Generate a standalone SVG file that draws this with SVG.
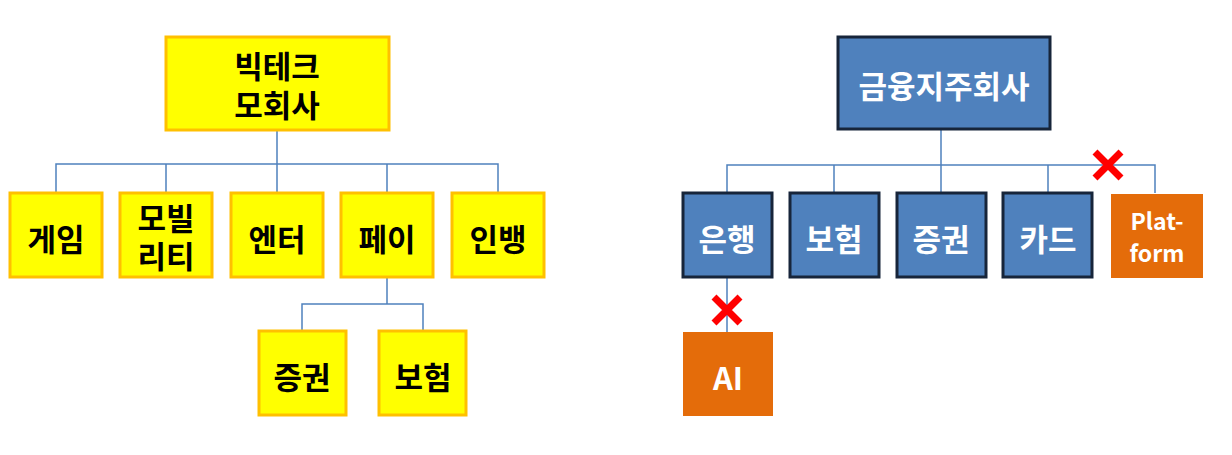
<svg xmlns="http://www.w3.org/2000/svg" width="1232" height="455" viewBox="0 0 1232 455">
<style>
.y{fill:#FFFF00;stroke:#FFC000;stroke-width:3}
.b{fill:#4F81BD;stroke:#17253A;stroke-width:3}
.o{fill:#E46C0A}
text{font-family:"Noto Sans CJK KR","Noto Sans",sans-serif;font-weight:bold;text-anchor:middle;dominant-baseline:central}
.k{fill:#000;font-size:31px}
.w{fill:#fff;font-size:31px}
.c{fill:none;stroke:#4F81BD;stroke-width:1.5}
.x{stroke:#FF0000;stroke-width:7}
</style>
<g id="connectors">
<path class="c" d="M277 130V164M56 193V164H498V193M166 164V193M277 164V193M387 164V193"/>
<path class="c" d="M387 277V304M302 331V304H423V331"/>
<path class="c" d="M941 129V165M727 193V165H1155V193M834 165V193M941 165V193M1048 165V193"/>
<path class="c" d="M727 277V332"/>
<path class="x" d="M1095 152L1121 178M1121 152L1095 178M714 297L740 323M740 297L714 323"/>
</g>
<g id="n1"><rect class="y" x="166" y="37" width="223" height="93"/><text class="k" x="277" y="64">빅테크</text><text class="k" x="277" y="103">모회사</text></g>
<g id="n2"><rect class="y" x="10" y="193" width="92" height="84"/><text class="k" x="56" y="237">게임</text></g>
<g id="n3"><rect class="y" x="120" y="193" width="92" height="84"/><text class="k" x="166" y="216">모빌</text><text class="k" x="166" y="254">리티</text></g>
<g id="n4"><rect class="y" x="231" y="193" width="92" height="84"/><text class="k" x="277" y="237">엔터</text></g>
<g id="n5"><rect class="y" x="341" y="193" width="92" height="84"/><text class="k" x="387" y="237">페이</text></g>
<g id="n6"><rect class="y" x="452" y="193" width="92" height="84"/><text class="k" x="498" y="237">인뱅</text></g>
<g id="n7"><rect class="y" x="259" y="331" width="87" height="84"/><text class="k" x="302" y="375">증권</text></g>
<g id="n8"><rect class="y" x="379" y="331" width="87" height="84"/><text class="k" x="423" y="375">보험</text></g>
<g id="m1"><rect class="b" x="838" y="37" width="212" height="92"/><text class="w" x="944" y="84">금융지주회사</text></g>
<g id="m2"><rect class="b" x="683" y="193" width="89" height="84"/><text class="w" x="727" y="237">은행</text></g>
<g id="m3"><rect class="b" x="790" y="193" width="89" height="84"/><text class="w" x="834" y="237">보험</text></g>
<g id="m4"><rect class="b" x="897" y="193" width="89" height="84"/><text class="w" x="941" y="237">증권</text></g>
<g id="m5"><rect class="b" x="1003" y="193" width="89" height="84"/><text class="w" x="1048" y="237">카드</text></g>
<g id="m6"><rect class="o" x="1111" y="194" width="92" height="84"/><text class="w" style="font-size:23px" x="1157" y="220">Plat-</text><text class="w" style="font-size:23px" x="1157" y="252">form</text></g>
<g id="m7"><rect class="o" x="683" y="332" width="90" height="84"/><text class="w" x="728" y="376">AI</text></g>
</svg>
